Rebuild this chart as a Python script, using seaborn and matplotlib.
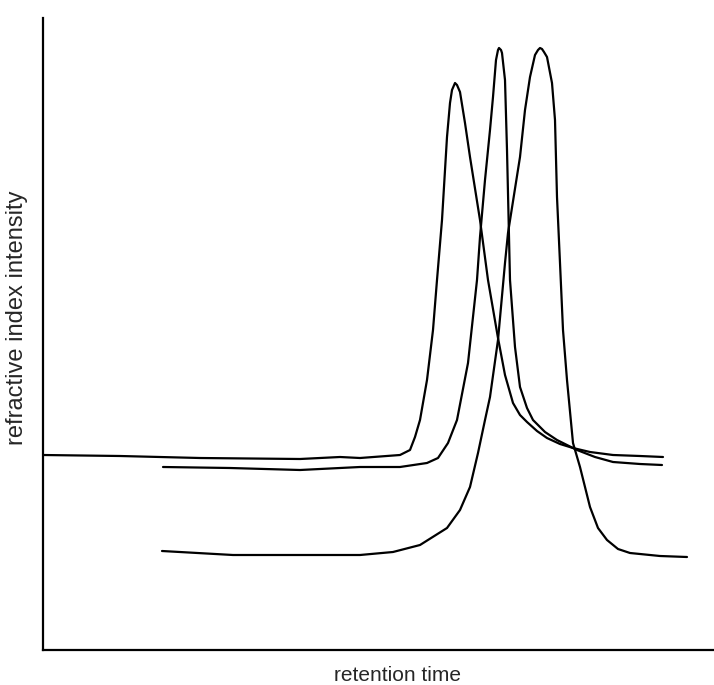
import numpy as np
import pandas as pd
import matplotlib
matplotlib.use("Agg")
import matplotlib.pyplot as plt
import seaborn as sns

# traced values (time, intensity) in arbitrary units
time_a = [43, 120, 200, 300, 340, 360, 400, 410, 415, 420, 427, 433, 437, 442, 447, 450, 452,
          455, 457, 460, 465, 470, 480, 488, 498, 505, 513, 520, 527, 537, 547, 560, 573, 590,
          613, 640, 663]
int_a = [195, 194, 192, 191, 193, 192, 195, 200, 213, 230, 270, 320, 370, 430, 513, 547, 560,
         567, 565, 558, 527, 493, 430, 370, 312, 275, 247, 235, 228, 219, 212, 206, 202, 198,
         195, 194, 193]

time_b = [163, 230, 300, 360, 400, 427, 438, 448, 457, 468, 477, 480, 485, 490, 493, 496, 498,
          499, 501, 502, 505, 507, 510, 515, 520, 527, 533, 545, 557, 577, 595, 613, 640, 662]
int_b = [183, 182, 180, 183, 183, 187, 192, 207, 230, 287, 370, 413, 470, 520, 553, 590, 600,
         602, 600, 597, 570, 500, 370, 303, 263, 242, 230, 218, 210, 200, 193, 188, 186, 185]

time_c = [162, 233, 300, 360, 393, 420, 447, 460, 470, 478, 485, 490, 498, 505, 508, 514, 520,
          525, 530, 535, 538, 540, 542, 544, 547, 552, 555, 557, 560, 563, 567, 573, 580, 590,
          598, 607, 618, 630, 660, 687]
int_c = [99, 95, 95, 95, 98, 105, 122, 140, 163, 197, 230, 253, 310, 387, 417, 455, 493,
         540, 573, 595, 600, 602, 601, 598, 593, 567, 530, 453, 387, 320, 270, 207, 183, 143,
         122, 110, 101, 97, 94, 93]

curves = {"a": (time_a, int_a), "b": (time_b, int_b), "c": (time_c, int_c)}

sns.set_style("white")
plt.rcParams["font.family"] = ["Liberation Sans", "DejaVu Sans"]

fig = plt.figure(figsize=(7.14, 6.85), dpi=100)
ax = fig.add_axes([43 / 714, 35 / 685, 1 - 43 / 714, 632 / 685])

for name, (t, v) in curves.items():
    df = pd.DataFrame({"time": t, "intensity": v})
    sns.lineplot(data=df, x="time", y="intensity", ax=ax, sort=False,
                 estimator=None, color="black", linewidth=1.6,
                 solid_joinstyle="round")

ax.set_xlim(43, 714)
ax.set_ylim(0, 632)
ax.set_xticks([])
ax.set_yticks([])
for s in ["top", "right"]:
    ax.spines[s].set_visible(False)
for s in ["left", "bottom"]:
    ax.spines[s].set_color("black")
    ax.spines[s].set_linewidth(1.6)

ax.set_xlabel("retention time", fontsize=15)
ax.set_ylabel("refractive index intensity", fontsize=17)
ax.xaxis.set_label_coords(0.528, -0.025)
ax.yaxis.set_label_coords(-0.023, 0.525)

fig.savefig("out.png", dpi=100)
